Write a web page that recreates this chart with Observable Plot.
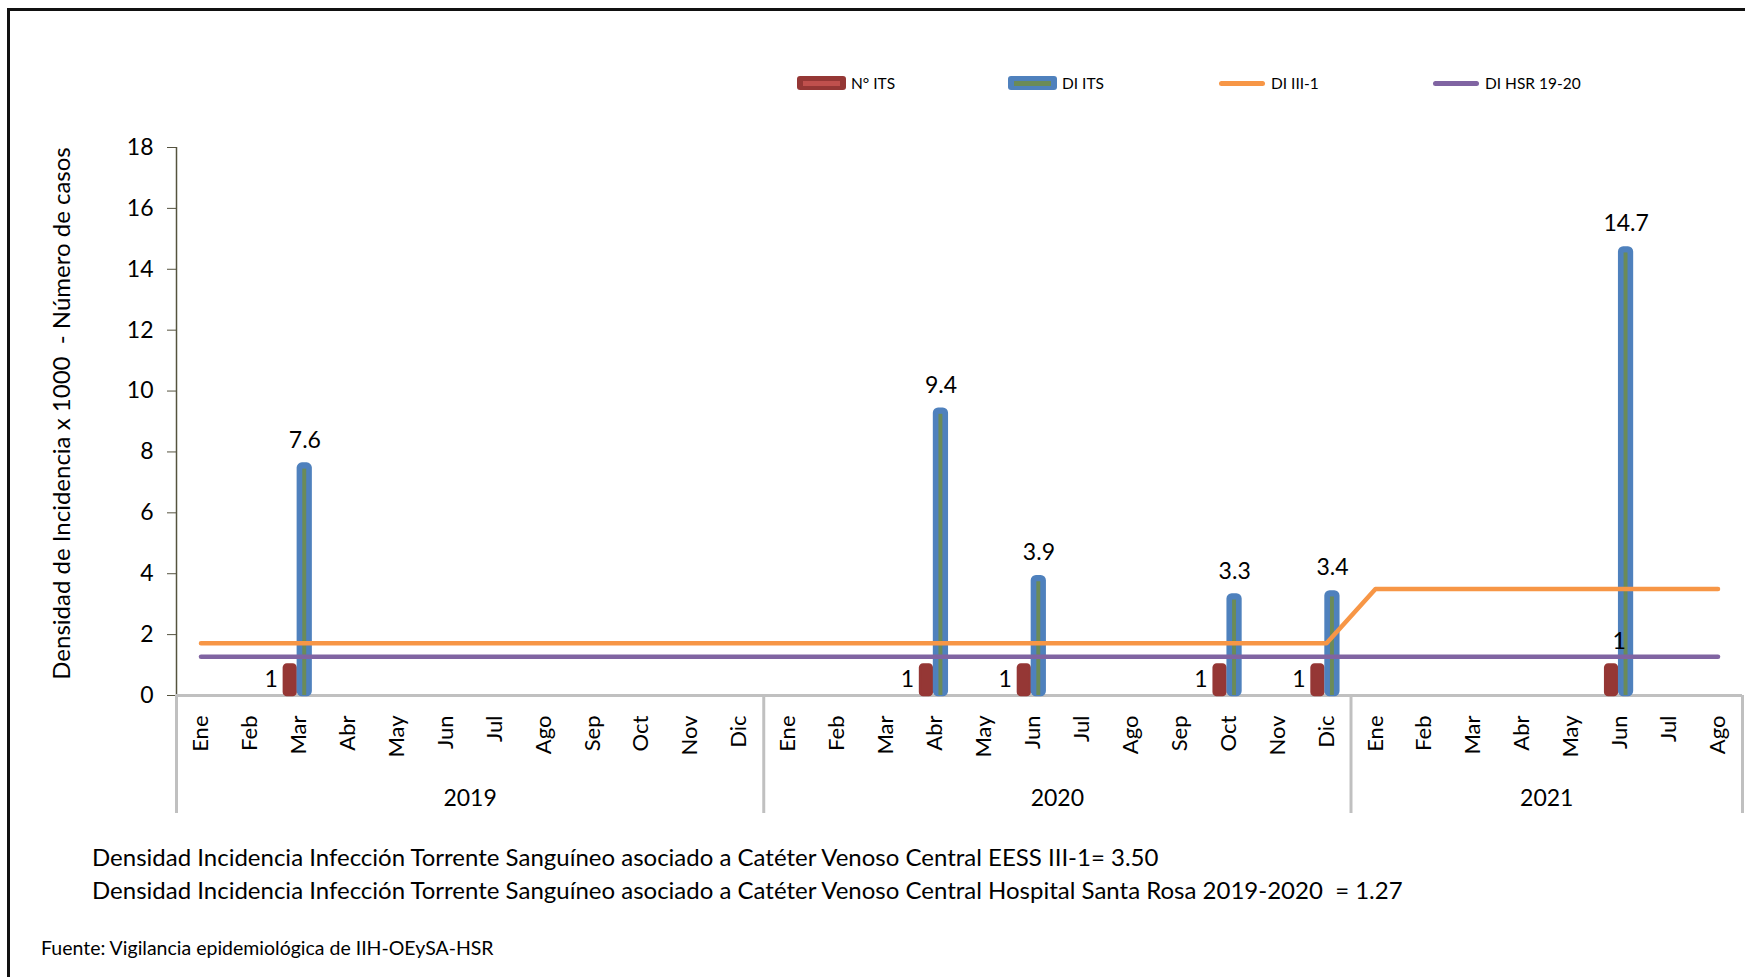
<!DOCTYPE html>
<html><head><meta charset="utf-8">
<script src="https://cdn.jsdelivr.net/npm/d3@7"></script>
<script src="https://cdn.jsdelivr.net/npm/@observablehq/plot@0.6"></script>
<style>
body{margin:0;background:#fff;font-family:Lato,"Noto Sans",sans-serif;}
#page{position:relative;width:1745px;height:977px;overflow:hidden;background:#fff;}
#frame{position:absolute;left:7px;top:8px;width:1800px;height:1000px;border-left:3px solid #111;border-top:3px solid #111;}
.li{position:absolute;top:76px;height:14px;display:flex;align-items:center;font-size:15.5px;color:#000;white-space:nowrap;}
.sw{position:relative;width:49px;height:14px;border-radius:3px;margin-right:5px;}
.sw .in{position:absolute;left:6px;right:6px;top:5px;height:5px;}
.ln{width:46px;height:5px;border-radius:3px;margin-right:6px;}
#chart{position:absolute;left:0;top:120px;}
.cap{position:absolute;white-space:pre;color:#000;transform-origin:left center;line-height:1;}
</style></head><body>
<div id="page">
<div id="frame"></div>
<div id="legend"></div>
<div id="chart"></div>
<div class="cap" id="c1" style="left:92px;top:845px;font-size:24px"></div>
<div class="cap" id="c2" style="left:92px;top:878px;font-size:24px"></div>
<div class="cap" id="c3" style="left:41px;top:938px;font-size:19.5px"></div>
</div>
<script>
// ---- data ----
const monthNames = ["Ene","Feb","Mar","Abr","May","Jun","Jul","Ago","Sep","Oct","Nov","Dic"];
const years = [2019, 2020, 2021];
const monthsPerYear = [12, 12, 8];
// N° ITS (número de casos), one value per month Ene-2019 .. Ago-2021
const nITS = [0,0,1,0,0,0,0,0,0,0,0,0,
              0,0,0,1,0,1,0,0,0,1,0,1,
              0,0,0,0,0,1,0,0];
// DI ITS (densidad de incidencia x 1000)
const diITS = [0,0,7.6,0,0,0,0,0,0,0,0,0,
               0,0,0,9.4,0,3.9,0,0,0,3.3,0,3.4,
               0,0,0,0,0,14.7,0,0];
// DI III-1 reference
const diIII1 = [1.72,1.72,1.72,1.72,1.72,1.72,1.72,1.72,1.72,1.72,1.72,1.72,
                1.72,1.72,1.72,1.72,1.72,1.72,1.72,1.72,1.72,1.72,1.72,1.72,
                3.5,3.5,3.5,3.5,3.5,3.5,3.5,3.5];
// DI HSR 19-20 reference
const diHSR = [1.27,1.27,1.27,1.27,1.27,1.27,1.27,1.27,1.27,1.27,1.27,1.27,
               1.27,1.27,1.27,1.27,1.27,1.27,1.27,1.27,1.27,1.27,1.27,1.27,
               1.27,1.27,1.27,1.27,1.27,1.27,1.27,1.27];
const yTicks = [0,2,4,6,8,10,12,14,16,18];
const seriesNames = ["N° ITS","DI ITS","DI III-1","DI HSR 19-20"];
const yLabel = "Densidad de Incidencia x 1000  - Número de casos";
const captions = [
  "Densidad Incidencia Infección Torrente Sanguíneo asociado a Catéter Venoso Central EESS III-1= 3.50",
  "Densidad Incidencia Infección Torrente Sanguíneo asociado a Catéter Venoso Central Hospital Santa Rosa 2019-2020  = 1.27",
  "Fuente: Vigilancia epidemiológica de IIH-OEySA-HSR"
];

// ---- build table ----
const rows = [];
years.forEach((y, k) => {
  for (let m = 0; m < monthsPerYear[k]; m++) {
    const i = rows.length;
    rows.push({i, year: y, month: monthNames[m], n: nITS[i], di: diITS[i], iii: diIII1[i], hsr: diHSR[i]});
  }
});
const N = rows.length;
const bounds = [0]; monthsPerYear.forEach(c => bounds.push(bounds[bounds.length-1] + c));
const yearCenters = years.map((y,k) => (bounds[k] + bounds[k+1]) / 2);

const C = {red:"#953735", redIn:"#C0504D", blue:"#4F81BD", green:"#6B8B58", orange:"#F79646", purple:"#8064A2", grid:"#C0C0C0", axis:"#55533F"};

const nRows = rows.filter(d => d.n > 0);
const dRows = rows.filter(d => d.di > 0);

const chart = Plot.plot({
  width: 1745, height: 720,
  marginLeft: 176, marginRight: 3, marginTop: 27, marginBottom: 145,
  style: {fontFamily: "Lato, 'Noto Sans', sans-serif", color: "#000", background: "transparent"},
  x: {domain: [0, N], axis: null},
  y: {domain: [0, 18], axis: null},
  marks: [
    Plot.axisY({ticks: yTicks, tickSize: 9, tickPadding: 14, fontSize: 23, stroke: C.axis, label: null}),
    Plot.ruleX([0], {y1: 0, y2: 18, stroke: C.axis, strokeWidth: 1.5}),
    Plot.axisX({ticks: bounds, tickSize: 118, tickFormat: () => "", stroke: C.grid, strokeWidth: 3, label: null}),
    Plot.ruleY([0], {x1: 0, x2: N, stroke: C.grid, strokeWidth: 3}),
    Plot.axisX({ticks: rows.map(d => d.i + 0.5), tickFormat: d => rows[Math.floor(d)].month, tickSize: 0, tickPadding: 20, tickRotate: -90, fontSize: 22, label: null}),
    Plot.axisX({ticks: yearCenters, tickFormat: (d, k) => String(years[k]), tickSize: 0, tickPadding: 94, fontSize: 23, label: null}),
    Plot.rect(nRows, {x1: d => d.i, x2: d => d.i + 1, y1: 0, y2: "n", fill: C.red, stroke: C.red, strokeWidth: 2.5, insetLeft: 10, insetRight: 27.2, rx: 3}),
    Plot.rect(dRows, {x1: d => d.i, x2: d => d.i + 1, y1: 0, y2: "di", fill: C.blue, stroke: C.blue, strokeWidth: 2.5, insetLeft: 24, insetRight: 12.2, rx: 4}),
    Plot.rect(dRows, {x1: d => d.i, x2: d => d.i + 1, y1: 0, y2: "di", fill: C.green, insetLeft: 28.4, insetRight: 16.6, insetTop: 5}),
    Plot.line(rows, {x: d => d.i + 0.5, y: "iii", stroke: C.orange, strokeWidth: 4.5, strokeLinecap: "round", strokeLinejoin: "round"}),
    Plot.line(rows, {x: d => d.i + 0.5, y: "hsr", stroke: C.purple, strokeWidth: 4.5, strokeLinecap: "round"}),
    Plot.text(dRows, {x: d => d.i + 0.5, y: "di", text: d => d.di.toFixed(1), dx: 6, dy: -16.5, fontSize: 23, lineAnchor: "bottom", fill: "#000"}),
    Plot.text(nRows.filter(d => d.year !== 2021), {x: d => d.i + 0.5, y: 0, text: d => String(d.n), textAnchor: "end", dx: -21, dy: -8.5, fontSize: 23, lineAnchor: "bottom", fill: "#000"}),
    Plot.text(nRows.filter(d => d.year === 2021), {x: d => d.i + 0.5, y: "n", text: d => String(d.n), dx: -1, dy: -16, fontSize: 23, lineAnchor: "bottom", fill: "#000"}),
    Plot.text([yLabel], {frameAnchor: "left", textAnchor: "middle", rotate: -90, dx: -114, dy: -8, fontSize: 24, fill: "#000"})
  ]
});
document.getElementById("chart").appendChild(chart);

// legend
const leg = document.getElementById("legend");
const legX = [797, 1008, 1219, 1433];
const legSw = [
  `<div class="sw" style="background:${C.red}"><div class="in" style="background:${C.redIn}"></div></div>`,
  `<div class="sw" style="background:${C.blue}"><div class="in" style="background:${C.green}"></div></div>`,
  `<div class="ln" style="background:${C.orange}"></div>`,
  `<div class="ln" style="background:${C.purple}"></div>`
];
seriesNames.forEach((s, k) => {
  const el = document.createElement("div");
  el.className = "li"; el.style.left = legX[k] + "px";
  el.innerHTML = legSw[k] + `<span>${s}</span>`;
  leg.appendChild(el);
});
["c1","c2","c3"].forEach((id, k) => document.getElementById(id).textContent = captions[k]);
</script>
</body></html>
